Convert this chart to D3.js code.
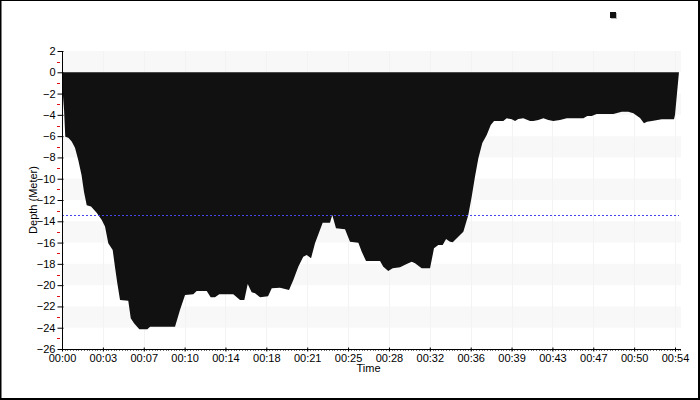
<!DOCTYPE html>
<html><head><meta charset="utf-8">
<script src="https://cdn.jsdelivr.net/npm/d3@7"></script>
<style>body{margin:0;background:#fff}svg{display:block}text{font-family:"Liberation Sans",Arial,sans-serif}</style>
</head><body><svg id="c" width="700" height="400"></svg>
<script>
// time in minutes since start of dive
const timeMin = [0,0.06,0.18,0.29,0.56,0.86,1.15,1.44,1.73,1.95,2.19,2.57,3.07,3.52,3.81,4.10,4.49,4.69,4.90,5.14,5.87,6.09,6.38,6.85,7.56,7.80,10.01,10.45,10.90,11.63,11.93,12.82,13.17,13.55,13.93,15.17,15.77,16.15,16.45,16.80,17.10,17.54,18.25,18.58,19.31,20.11,20.49,20.93,21.37,21.68,22.06,22.41,22.85,23.09,23.74,23.94,24.27,25.07,25.51,26.25,26.55,26.93,28.17,28.46,28.90,29.29,29.94,30.53,30.98,31.27,31.86,32.60,32.95,33.33,33.72,34.02,34.37,34.61,35.10,35.55,35.99,36.29,36.58,36.88,37.23,37.62,37.98,38.27,39.09,39.39,39.84,40.13,40.42,40.86,41.46,41.75,42.19,42.64,43.08,43.52,44.11,44.71,46.18,46.53,46.92,47.36,48.83,49.58,50.16,50.61,51.20,51.55,51.82,52.38,53.12,54.21,54.30,54.65];
// depth in meters
const depthM = [0,-1.8,-3.5,-6.05,-6.15,-6.5,-7.1,-8.24,-9.65,-11.25,-12.5,-12.6,-13.2,-13.88,-14.5,-16.07,-16.7,-18.27,-19.83,-21.4,-21.46,-23.12,-23.59,-24.15,-24.15,-23.9,-23.9,-22.33,-20.92,-20.86,-20.55,-20.55,-21.14,-21.14,-20.86,-20.86,-21.4,-21.4,-19.89,-20.67,-20.77,-21.14,-21.05,-20.3,-20.24,-20.45,-19.52,-18.27,-17.33,-17.17,-17.48,-16.07,-14.82,-14.13,-14.13,-13.41,-14.66,-14.75,-15.92,-16.01,-16.86,-17.73,-17.73,-18.27,-18.67,-18.42,-18.32,-18.01,-17.8,-17.95,-18.42,-18.42,-16.54,-16.23,-16.23,-15.66,-15.92,-15.97,-15.45,-14.98,-13.41,-11.69,-9.81,-8.08,-6.64,-5.89,-4.95,-4.58,-4.58,-4.32,-4.42,-4.58,-4.39,-4.32,-4.58,-4.58,-4.48,-4.32,-4.48,-4.58,-4.48,-4.32,-4.32,-4.11,-4.11,-3.92,-3.92,-3.7,-3.7,-3.85,-4.3,-4.8,-4.64,-4.55,-4.42,-4.42,-4.0,0];
const avgDepth = -13.44;
const xTickLabels = ["00:00","00:03","00:07","00:10","00:14","00:18","00:21","00:25","00:28","00:32","00:36","00:39","00:43","00:47","00:50","00:54"];
const xTickSpanMin = 54.3;   // minutes at last labelled tick
const xDomainMax = 54.83;
const yTicks = [2,0,-2,-4,-6,-8,-10,-12,-14,-16,-18,-20,-22,-24,-26];
const yMinorTicks = [1,-1,-3,-5,-7,-9,-11,-13,-15,-17,-19,-21,-23,-25];

const data = timeMin.map((t,i)=>({t, d: depthM[i]}));
const svg = d3.select("#c");
const L = 62, R = 681, T = 51, B = 349;
const x = d3.scaleLinear().domain([0, xDomainMax]).range([L, R]);
const y = d3.scaleLinear().domain([2, -26]).range([T, B]);
const xTickVals = xTickLabels.map((_, i) => i * xTickSpanMin / (xTickLabels.length - 1));

// border
svg.append("rect").attr("x",0.5).attr("y",0.5).attr("width",698).attr("height",398)
  .attr("fill","none").attr("stroke","#000").attr("stroke-width",1);
svg.append("line").attr("x1",0.5).attr("x2",0.5).attr("y1",0).attr("y2",400).attr("stroke","#000").attr("stroke-width",2);
svg.append("line").attr("x1",699).attr("x2",699).attr("y1",0).attr("y2",400).attr("stroke","#000").attr("stroke-width",2);
svg.append("line").attr("x1",0).attr("x2",700).attr("y1",399).attr("y2",399).attr("stroke","#000").attr("stroke-width",2);

// interlaced bands
for (let i = 0; i < yTicks.length - 1; i += 2) {
  svg.append("rect").attr("x", L).attr("width", R - L)
    .attr("y", y(yTicks[i])).attr("height", y(yTicks[i+1]) - y(yTicks[i]))
    .attr("fill", "#f8f8f8");
}
// faint vertical grid
svg.append("g").selectAll("line").data(xTickVals).join("line")
  .attr("x1", d => Math.round(x(d)) + 0.5).attr("x2", d => Math.round(x(d)) + 0.5)
  .attr("y1", T).attr("y2", B).attr("stroke", "#f3f3f3");

// area
const area = d3.area().x(d => x(d.t)).y0(y(0)).y1(d => y(d.d)).curve(d3.curveLinear);
svg.append("path").datum(data).attr("d", area).attr("fill", "#111111");

// average depth line
svg.append("line").attr("x1", x(timeMin[0])).attr("x2", x(timeMin[timeMin.length-1]))
  .attr("y1", Math.round(y(avgDepth)) + 0.5).attr("y2", Math.round(y(avgDepth)) + 0.5)
  .attr("stroke", "#4646e6").attr("stroke-width", 1).attr("stroke-dasharray", "2,2");

// y axis
const yAxis = d3.axisLeft(y).tickValues(yTicks).tickSize(5).tickPadding(2).tickFormat(d3.format("d"));
const gy = svg.append("g").attr("transform", `translate(${L + 0.5},0)`).call(yAxis);
gy.select(".domain").attr("d", `M0,${T}V${B}`).attr("stroke", "#000");
gy.selectAll(".tick line").attr("x2", -5).attr("x1", 1).attr("stroke", "#000");
gy.selectAll(".tick text").attr("font-size", 11).attr("fill", "#000").attr("font-family", "Liberation Sans, Arial, sans-serif");
svg.append("g").selectAll("line").data(yMinorTicks).join("line")
  .attr("x1", L - 5).attr("x2", L - 2)
  .attr("y1", d => Math.round(y(d)) + 0.5).attr("y2", d => Math.round(y(d)) + 0.5)
  .attr("stroke", "#e01010");

// x axis minor ticks
const minorVals = d3.range(0, xDomainMax, xTickSpanMin / 15 / 15);
svg.append("g").selectAll("line").data(minorVals).join("line")
  .attr("x1", d => Math.round(x(d)) + 0.5).attr("x2", d => Math.round(x(d)) + 0.5)
  .attr("y1", B + 1).attr("y2", B + 2).attr("stroke", "#777");
// x axis
const xAxis = d3.axisBottom(x).tickValues(xTickVals).tickSize(2).tickPadding(3)
  .tickFormat((d, i) => xTickLabels[i]);
const gx = svg.append("g").attr("transform", `translate(0,${B + 0.5})`).call(xAxis);
gx.select(".domain").attr("d", `M${L},0H${R}`).attr("stroke", "#000");
gx.selectAll(".tick line").attr("y1", -2).attr("y2", 2).attr("stroke", "#000");
gx.selectAll(".tick text").attr("font-size", 11).attr("fill", "#000").attr("font-family", "Liberation Sans, Arial, sans-serif");

// axis titles
svg.append("text").attr("x", (x(0) + x(xTickSpanMin)) / 2).attr("y", 372)
  .attr("text-anchor", "middle").attr("font-size", 11).attr("fill", "#000").text("Time");
svg.append("text").attr("transform", `translate(37,${(T + B) / 2}) rotate(-90)`)
  .attr("text-anchor", "middle").attr("font-size", 11).attr("fill", "#000").text("Depth (Meter)");

// legend marker
svg.append("rect").attr("x", 611).attr("y", 13).attr("width", 6).attr("height", 6).attr("fill", "#bbb");
svg.append("rect").attr("x", 610).attr("y", 12).attr("width", 6).attr("height", 6).attr("fill", "#111");
</script></body></html>
